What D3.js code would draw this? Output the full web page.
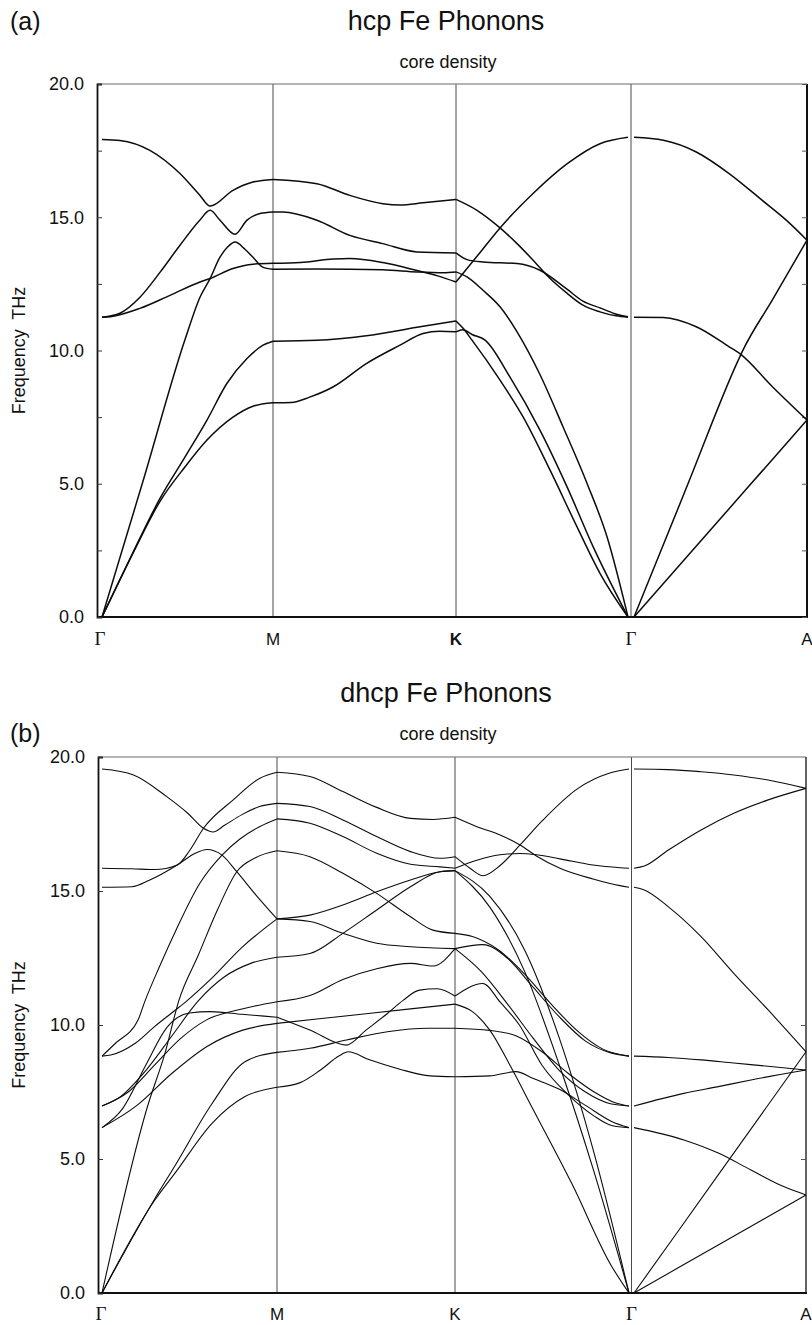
<!DOCTYPE html>
<html>
<head>
<meta charset="utf-8">
<script src="https://cdn.jsdelivr.net/npm/d3@7"></script>
<style>
  body { margin: 0; background: #fff; }
  svg text { font-family: "Liberation Sans", Arial, Helvetica, sans-serif; fill: #111; }
</style>
</head>
<body>
<svg id="chart" width="812" height="1325"></svg>
<script>
// ---------- phonon branches: [fraction along segment, frequency THz] ----------
// hcp Fe, path Γ–M–K–Γ–A
const hcpGM = [
  [[0,17.92],[.105,17.88],[.28,17.51],[.456,16.64],[.573,15.82],[.632,15.42],[.766,16.01],[.883,16.32],[1,16.42]],
  [[0,11.25],[.105,11.4],[.222,12.0],[.34,12.94],[.456,13.95],[.573,14.9],[.632,15.26],[.69,14.89],[.778,14.36],[.848,14.89],[.924,15.14],[1,15.2]],
  [[0,11.25],[.05,11.27],[.222,11.58],[.398,12.07],[.573,12.57],[.632,12.7],[.766,13.08],[.883,13.24],[1,13.27]],
  [[0,0],[.24,5.1],[.485,10.4],[.573,12.0],[.632,12.7],[.69,13.5],[.737,13.9],[.778,14.07],[.836,13.8],[.883,13.5],[.94,13.13],[1,13.05]],
  [[0,0],[.181,2.42],[.339,4.45],[.485,6.0],[.614,7.39],[.731,8.77],[.848,9.7],[.942,10.2],[1,10.35]],
  [[0,0],[.18,2.38],[.34,4.35],[.485,5.63],[.614,6.64],[.766,7.5],[.883,7.91],[1,8.04]]
];
const hcpMK = [
  [[0,16.42],[.24,16.26],[.42,15.82],[.6,15.51],[.694,15.46],[.82,15.54],[1,15.67]],
  [[0,15.2],[.055,15.2],[.24,14.89],[.42,14.32],[.6,14.01],[.787,13.7],[1,13.66]],
  [[0,13.27],[.15,13.3],[.33,13.43],[.42,13.45],[.6,13.3],[.787,13.0],[.9,12.8],[1,12.57]],
  [[0,13.05],[.24,13.06],[.6,13.03],[.787,12.95],[.93,12.92],[1,12.95]],
  [[0,10.35],[.24,10.38],[.51,10.55],[.787,10.87],[1,11.11]],
  [[0,8.04],[.1,8.05],[.2,8.25],[.33,8.64],[.51,9.51],[.694,10.2],[.82,10.64],[.91,10.72],[1,10.7]]
];
const hcpKG = [
  [[0,12.57],[.128,13.58],[.256,14.6],[.448,15.89],[.645,17.0],[.837,17.76],[1,18.0]],
  [[0,15.67],[.122,15.26],[.256,14.6],[.355,14.01],[.448,13.39],[.547,12.7],[.645,12.15],[.738,11.7],[.837,11.45],[.93,11.3],[1,11.25]],
  [[0,13.66],[.064,13.41],[.157,13.32],[.355,13.26],[.488,13.01],[.645,12.3],[.738,11.85],[.837,11.6],[.924,11.38],[1,11.27]],
  [[0,12.95],[.064,12.76],[.157,12.26],[.256,11.64],[.355,10.7],[.488,9.1],[.622,7.14],[.762,5.01],[.878,3.01],[1,0]],
  [[0,11.11],[.04,10.84],[.093,10.39],[.256,8.89],[.39,7.51],[.547,5.51],[.703,3.39],[.837,1.64],[1,0]],
  [[0,10.7],[.04,10.78],[.093,10.6],[.169,10.39],[.314,9.0],[.488,7.01],[.645,4.89],[.797,2.64],[1,0]]
];
const hcpGA = [
  [[0,18.0],[.17,17.89],[.36,17.45],[.55,16.64],[.74,15.64],[.88,14.89],[1,14.14]],
  [[0,0],[.3,4.8],[.6,9.6],[.625,9.95],[.8,11.9],[1,14.14]],
  [[0,0],[.5,3.695],[1,7.39]],
  [[0,11.25],[.17,11.24],[.36,10.89],[.55,10.14],[.61,9.89],[.8,8.64],[1,7.39]]
];

// dhcp Fe, path Γ–M–K–Γ–A
const dhcpGM = [
  [[0,19.55],[.18,19.33],[.37,18.52],[.49,17.9],[.58,17.34],[.635,17.2],[.7,17.45],[.8,17.85],[.9,18.15],[1,18.27]],
  [[0,15.85],[.17,15.83],[.3,15.8],[.43,15.97],[.5,16.5],[.58,17.34],[.75,18.4],[.9,19.2],[1,19.43]],
  [[0,15.14],[.17,15.16],[.27,15.4],[.43,15.97],[.53,16.4],[.6,16.55],[.686,16.34],[.77,15.72],[.88,14.85],[1,13.96]],
  [[0,8.84],[.074,9.3],[.206,10.19],[.246,10.9],[.33,12.2],[.42,13.5],[.56,15.3],[.686,16.34],[.79,16.95],[.9,17.4],[1,17.69]],
  [[0,0],[.26,6.96],[.36,8.95],[.44,10.93],[.55,12.6],[.66,14.3],[.77,15.72],[.88,16.25],[1,16.5]],
  [[0,8.84],[.05,8.88],[.19,9.32],[.3,9.94],[.42,10.56],[.49,10.93],[.62,11.7],[.8,12.9],[1,13.96]],
  [[0,6.98],[.1,7.3],[.25,8.3],[.4,9.6],[.55,10.9],[.7,11.8],[.85,12.3],[1,12.53]],
  [[0,6.98],[.15,7.5],[.3,8.5],[.45,9.5],[.6,10.2],[.8,10.6],[1,10.87]],
  [[0,6.17],[.12,6.9],[.25,8.5],[.37,9.9],[.5,10.45],[.62,10.5],[.8,10.4],[1,10.29]],
  [[0,6.17],[.2,7.0],[.4,8.2],[.6,9.2],[.8,9.8],[1,10.06]],
  [[0,0],[.3,3.5],[.417,4.75],[.63,7.08],[.817,8.63],[1,8.98]],
  [[0,0],[.3,3.45],[.417,4.47],[.63,6.34],[.817,7.33],[1,7.68]]
];
const dhcpMK = [
  [[0,19.43],[.185,19.27],[.37,18.71],[.56,18.12],[.75,17.71],[.876,17.67],[1,17.75]],
  [[0,18.27],[.185,18.15],[.37,17.65],[.56,17.03],[.75,16.47],[.916,16.22],[1,16.28]],
  [[0,17.69],[.185,17.53],[.37,17.03],[.56,16.41],[.75,16.0],[.916,15.9],[1,15.85]],
  [[0,16.5],[.185,16.28],[.37,15.66],[.56,14.91],[.75,14.04],[.876,13.54],[1,13.42]],
  [[0,13.96],[.185,14.1],[.37,14.48],[.56,14.97],[.75,15.41],[.916,15.72],[1,15.76]],
  [[0,13.96],[.185,13.86],[.37,13.42],[.56,13.05],[.75,12.92],[1,12.85]],
  [[0,12.53],[.185,12.67],[.37,13.42],[.56,14.29],[.75,15.16],[.916,15.72],[1,15.76]],
  [[0,10.87],[.185,11.1],[.37,11.7],[.56,12.1],[.75,12.3],[.876,12.2],[1,12.85]],
  [[0,10.29],[.185,9.81],[.39,9.25],[.5,9.81],[.62,10.43],[.71,10.93],[.8,11.3],[.9,11.35],[1,11.08]],
  [[0,10.06],[.5,10.42],[1,10.78]],
  [[0,8.98],[.185,9.13],[.39,9.44],[.62,9.75],[.85,9.88],[1,9.88]],
  [[0,7.68],[.13,7.85],[.24,8.3],[.35,8.85],[.4,9.0],[.52,8.7],[.69,8.35],[.86,8.1],[1,8.07]]
];
const dhcpKG = [
  [[0,17.75],[.126,17.4],[.259,17.09],[.374,16.72],[.47,16.3],[.603,15.85],[.793,15.45],[.948,15.2],[1,15.14]],
  [[0,16.28],[.086,15.85],[.161,15.57],[.259,15.95],[.374,16.72],[.506,17.65],[.701,18.8],[.89,19.4],[1,19.55]],
  [[0,15.85],[.126,16.15],[.259,16.35],[.374,16.4],[.47,16.35],[.603,16.2],[.793,15.97],[.948,15.87],[1,15.85]],
  [[0,15.76],[.2,14.8],[.4,12.8],[.6,9.5],[.8,5.2],[1,0]],
  [[0,15.76],[.2,14.4],[.4,12.0],[.6,8.5],[.8,4.5],[1,0]],
  [[0,13.42],[.1,13.3],[.25,12.8],[.4,11.9],[.55,10.8],[.7,9.8],[.85,9.1],[1,8.84]],
  [[0,12.85],[.16,13.0],[.3,12.5],[.45,11.4],[.6,10.3],[.75,9.4],[.9,8.95],[1,8.84]],
  [[0,12.85],[.15,12.0],[.3,10.8],[.45,9.5],[.6,8.3],[.75,7.5],[.9,7.05],[1,6.98]],
  [[0,11.08],[.16,11.55],[.26,10.85],[.37,10.0],[.5,8.5],[.65,7.4],[.8,6.6],[.9,6.25],[1,6.17]],
  [[0,10.78],[.1,10.5],[.2,9.81],[.32,8.45],[.44,6.96],[.67,4.1],[.9,1.0],[1,0]],
  [[0,9.88],[.2,9.8],[.35,9.6],[.5,9.0],[.65,8.2],[.8,7.5],[.92,7.1],[1,6.98]],
  [[0,8.07],[.2,8.1],[.35,8.26],[.45,8.0],[.6,7.6],[.75,7.0],[.9,6.4],[1,6.17]]
];
const dhcpGA = [
  [[0,19.55],[.2,19.53],[.39,19.45],[.58,19.33],[.78,19.14],[1,18.83]],
  [[0,15.85],[.06,15.93],[.2,16.53],[.39,17.28],[.58,17.9],[.78,18.4],[1,18.83]],
  [[0,15.14],[.06,15.04],[.2,14.41],[.39,13.3],[.58,11.93],[.78,10.56],[1,9.0]],
  [[0,8.84],[.2,8.79],[.39,8.7],[.58,8.58],[.78,8.46],[1,8.32]],
  [[0,6.98],[.29,7.45],[.49,7.7],[.68,7.95],[1,8.32]],
  [[0,6.17],[.29,5.71],[.49,5.22],[.68,4.59],[.87,3.97],[1,3.66]],
  [[0,0],[.5,4.5],[1,9.0]],
  [[0,0],[.5,1.83],[1,3.66]]
];

// axis labelling
const pathLabels = ["Γ", "M", "K", "Γ", "A"];
const yLabelTicks = [0, 5, 10, 15, 20];
const yMinorTicks = [0, 2.5, 5, 7.5, 10, 12.5, 15, 17.5, 20];

// ---------- drawing ----------
const svg = d3.select("#chart");
const fmt = d3.format(".1f");

function drawPanel(p) {
  const g = svg.append("g");
  const y = d3.scaleLinear().domain([0, 20]).range([p.yBottom, p.yTop]);
  const xs = p.segs.map(r => d3.scaleLinear().domain([0, 1]).range(r));

  // symmetry-point guide lines (M, K, Γ)
  const guides = [xs[0](1), xs[1](1), (xs[2](1) + xs[3](0)) / 2];
  g.selectAll("line.guide").data(guides).join("line")
    .attr("x1", d => d).attr("x2", d => d)
    .attr("y1", y(20)).attr("y2", y(0))
    .attr("stroke", "#4a4a4a").attr("stroke-width", 1);

  // frame
  g.append("line").attr("x1", p.xLeft).attr("x2", p.xRight).attr("y1", y(20)).attr("y2", y(20))
    .attr("stroke", "#6a6a6a").attr("stroke-width", 1.2);
  g.append("line").attr("x1", p.xRight).attr("x2", p.xRight).attr("y1", y(20)).attr("y2", y(0))
    .attr("stroke", "#111").attr("stroke-width", p.rightW);
  g.append("line").attr("x1", p.xLeft).attr("x2", p.xRight + 1).attr("y1", y(0)).attr("y2", y(0))
    .attr("stroke", "#111").attr("stroke-width", 2.2);

  // left axis: inward ticks, one-decimal labels
  const leftAxis = d3.axisLeft(y).tickValues(p.ticks).tickSize(-5).tickPadding(13)
    .tickFormat(d => (d % 5 === 0 ? fmt(d) : ""));
  const la = g.append("g").attr("transform", `translate(${p.xLeft},0)`).call(leftAxis);
  la.select(".domain").attr("stroke", "#111").attr("stroke-width", 1.8);
  la.selectAll(".tick line").attr("stroke", "#333");
  la.selectAll("text").attr("font-size", 18).attr("fill", "#111")
    .style("font-family", '"Liberation Sans", Arial, sans-serif');

  // right axis: inward ticks only
  const rightAxis = d3.axisRight(y).tickValues(p.rticks).tickSize(-5).tickFormat("");
  const ra = g.append("g").attr("transform", `translate(${p.xRight},0)`).call(rightAxis);
  ra.select(".domain").remove();
  ra.selectAll(".tick line").attr("stroke", "#555");

  // branches
  const segData = [p.gm, p.mk, p.kg, p.ga];
  segData.forEach((branches, i) => {
    const line = d3.line().x(d => xs[i](d[0])).y(d => y(d[1])).curve(d3.curveMonotoneX);
    g.selectAll(null).data(branches).join("path")
      .attr("d", line)
      .attr("fill", "none").attr("stroke", "#0c0c0c")
      .attr("stroke-width", p.lw).attr("stroke-linejoin", "round");
  });

  // path labels
  const labX = [p.xLeft + 3, xs[0](1), xs[1](1), guides[2], p.xRight];
  g.selectAll("text.plab").data(pathLabels).join("text")
    .attr("x", (d, i) => labX[i]).attr("y", p.labY)
    .attr("text-anchor", "middle")
    .attr("font-size", (d) => (d === "Γ" ? 19 : 17))
    .attr("font-weight", (d, i) => (p.boldK && i === 2 ? "bold" : "normal"))
    .style("font-family", d => (d === "Γ" ? '"Liberation Serif", "DejaVu Serif", serif' : '"Liberation Sans", Arial, sans-serif'))
    .text(d => d);

  // titles
  svg.append("text").attr("x", 446).attr("y", p.titleY).attr("text-anchor", "middle")
    .attr("font-size", 27).text(p.title);
  svg.append("text").attr("x", 448).attr("y", p.subY).attr("text-anchor", "middle")
    .attr("font-size", 18).text("core density");
  svg.append("text").attr("x", 10).attr("y", p.tagY).attr("font-size", 25).text(p.tag);
  svg.append("text")
    .attr("transform", `translate(25,${(y(0) + y(20)) / 2}) rotate(-90)`)
    .attr("text-anchor", "middle").attr("font-size", 18)
    .style("white-space", "pre").text("Frequency  THz");
}

drawPanel({
  title: "hcp Fe Phonons", tag: "(a)", titleY: 30, subY: 68, tagY: 30,
  yTop: 84, yBottom: 617, xLeft: 97, xRight: 807, rightW: 2,
  segs: [[102, 273], [273, 456], [456, 628], [634, 807]],
  gm: hcpGM, mk: hcpMK, kg: hcpKG, ga: hcpGA,
  ticks: yMinorTicks, rticks: yMinorTicks, lw: 1.5, labY: 645, boldK: true
});

drawPanel({
  title: "dhcp Fe Phonons", tag: "(b)", titleY: 702, subY: 740, tagY: 742,
  yTop: 757, yBottom: 1293, xLeft: 98, xRight: 806, rightW: 1.3,
  segs: [[102, 277], [277, 455], [455, 629], [634, 806]],
  gm: dhcpGM, mk: dhcpMK, kg: dhcpKG, ga: dhcpGA,
  ticks: yLabelTicks, rticks: [5, 10], lw: 1.1, labY: 1320, boldK: false
});
</script>
</body>
</html>
